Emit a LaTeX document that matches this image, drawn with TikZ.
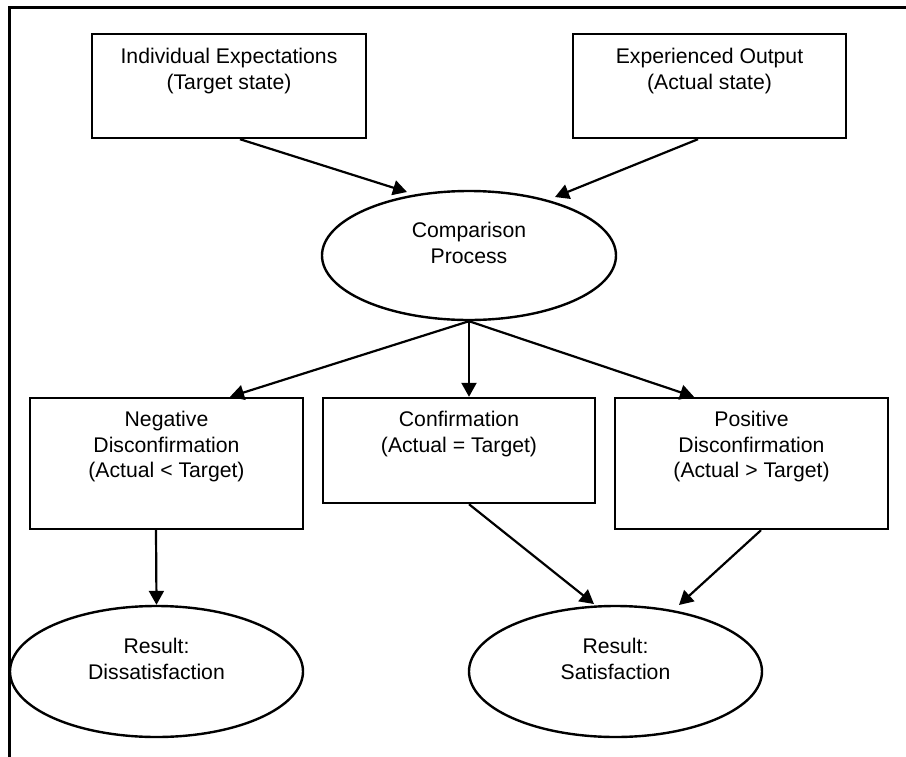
\documentclass[tikz,border=0pt]{standalone}
\usepackage{fontspec}
\setmainfont{Liberation Sans}
\usetikzlibrary{arrows.meta,shapes.geometric}
\newcommand{\mltext}[1]{\begin{tabular}[t]{@{}c@{}}#1\end{tabular}}
\begin{document}
\begin{tikzpicture}[x=1pt,y=-1pt,
  box/.style={draw, line width=2.4pt, rectangle, inner sep=0pt},
  oval/.style={draw, line width=2.4pt, ellipse, inner sep=0pt},
  txt/.style={anchor=base, inner sep=0pt, font=\fontsize{21.2pt}{25.3pt}\selectfont},
  arr/.style={-{Triangle[length=14pt,width=15pt]}, line width=2.2pt},
  frame/.style={line width=2.4pt}]
\useasboundingbox (0,0) rectangle (906,756);
% outer frame (left and top edges)
\draw[frame] (9.3,757) -- (9.3,7.5) -- (907,7.5);

% top boxes
\node[box, minimum width=274pt, minimum height=104pt] (b1) at (229,86) {};
\node[txt] (b1t) at ([yshift=-31pt]b1.north) {\mltext{Individual Expectations\\(Target state)}};
\node[box, minimum width=273pt, minimum height=104pt] (b2) at (709.5,86) {};
\node[txt] (b2t) at ([yshift=-31pt]b2.north) {\mltext{Experienced Output\\(Actual state)}};

% comparison
\node[oval, minimum width=294pt, minimum height=129pt] (cmp) at (469,255.5) {};
\node[txt] (cmpt) at ([yshift=-48pt]cmp.north) {\mltext{Comparison\\Process}};

% middle boxes
\node[box, minimum width=273pt, minimum height=131pt] (neg) at (166.5,463.5) {};
\node[txt] (negt) at ([yshift=-30pt]neg.north) {\mltext{Negative\\Disconfirmation\\(Actual < Target)}};
\node[box, minimum width=272pt, minimum height=105pt] (conf) at (459,450.5) {};
\node[txt] (conft) at ([yshift=-30pt]conf.north) {\mltext{Confirmation\\(Actual = Target)}};
\node[box, minimum width=273pt, minimum height=131pt] (pos) at (751.5,463.5) {};
\node[txt] (post) at ([yshift=-30pt]pos.north) {\mltext{Positive\\Disconfirmation\\(Actual > Target)}};

% results
\node[oval, minimum width=293pt, minimum height=131pt] (dis) at (156.5,671.5) {};
\node[txt] (dist) at ([yshift=-49pt]dis.north) {\mltext{Result:\\Dissatisfaction}};
\node[oval, minimum width=293pt, minimum height=131pt] (sat) at (615.5,671.5) {};
\node[txt] (satt) at ([yshift=-49pt]sat.north) {\mltext{Result:\\Satisfaction}};

% connectors
\draw[arr] ([xshift=11pt]b1.south) -- ([shift={(-62,-63.5)}]cmp.center);
\draw[arr] ([xshift=-11.5pt]b2.south) -- ([shift={(86,-58.5)}]cmp.center);
\draw[arr] (cmp.south) -- ([xshift=63.5pt]neg.north);
\draw[arr] (cmp.south) -- ([xshift=10pt]conf.north);
\draw[arr] (cmp.south) -- ([xshift=-57.5pt]pos.north);
\draw[arr] ([xshift=-10.5pt]neg.south) -- (dis.north);
\draw[arr] ([xshift=10pt]conf.south) -- ([shift={(-21.5,-67.5)}]sat.center);
\draw[arr] ([xshift=9.5pt]pos.south) -- ([shift={(63.5,-66.5)}]sat.center);
\end{tikzpicture}
\end{document}
